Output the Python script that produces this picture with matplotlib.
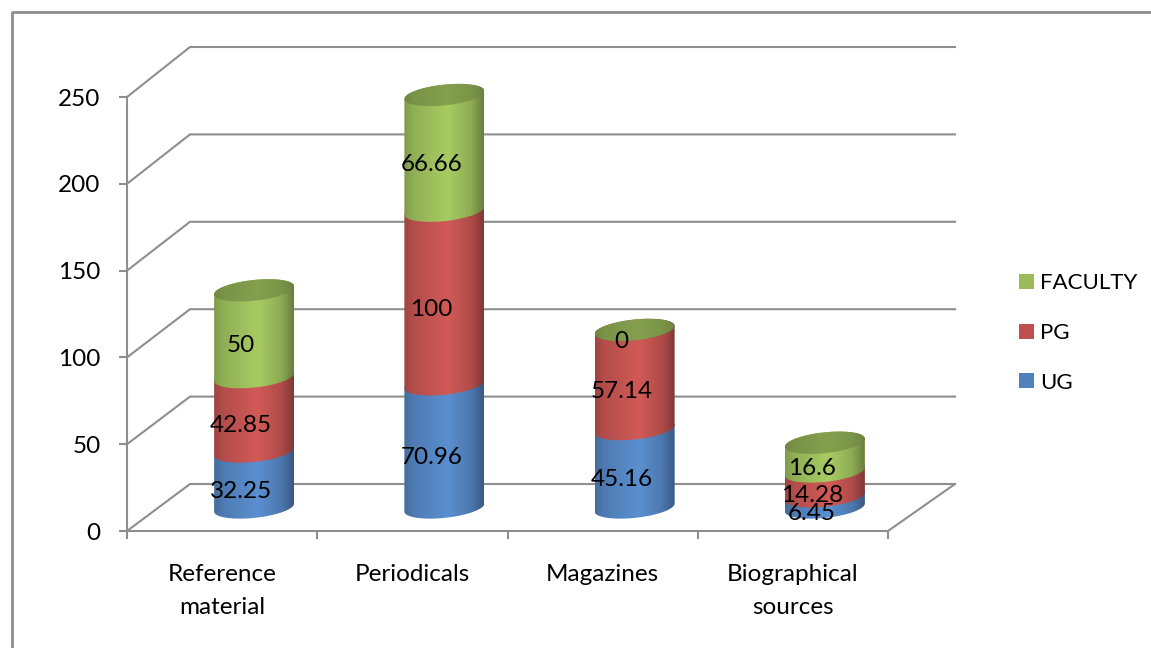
import numpy as np
import matplotlib
matplotlib.use("Agg")
import matplotlib.pyplot as plt
from matplotlib.lines import Line2D
from matplotlib.patches import PathPatch, Patch
from matplotlib.path import Path

plt.rcParams["font.family"] = ["Lato", "DejaVu Sans"]

categories = ["Reference\nmaterial", "Periodicals", "Magazines", "Biographical\nsources"]
ug = [32.25, 70.96, 45.16, 6.45]
pg = [42.85, 100, 57.14, 14.28]
faculty = [50, 66.66, 0, 16.6]
y_ticks = [0, 50, 100, 150, 200, 250]

W, H = 1151, 648
AX_L, AX_R, AX_T, AX_B = 127, 888, 97, 531
PX_X = 4 / (AX_R - AX_L)       # data units per pixel, horizontally
PX_Y = 250 / (AX_B - AX_T)     # data units per pixel, vertically

GREY = "#8e8e8e"
LW = 1.5
FS = 17.5

fig = plt.figure(figsize=(W / 100, H / 100), dpi=100, facecolor="white")
ax = fig.add_axes([AX_L / W, 1 - AX_B / H, (AX_R - AX_L) / W, (AX_B - AX_T) / H])
ax.set_facecolor("none")

# outer chart frame, running off the right and bottom edges
fig.add_artist(Line2D([11.5 / W, 11.5 / W, 1], [0, 1 - 11.5 / H, 1 - 11.5 / H],
                      color=GREY, lw=2.0, transform=fig.transFigure))

# walls and floor of the 3D box
depth_x_left = 63 * PX_X
depth_x_right = 67 * PX_X
depth_y = 47 * PX_Y
back_scale = 437 / 434
back_left = -0.5 + depth_x_left
back_right = 3.5 + depth_x_right
for v in y_ticks:
    yb = depth_y + v * back_scale
    ax.plot([-0.5, back_left, back_right], [v, yb, yb], color=GREY, lw=LW,
            clip_on=False, zorder=1, solid_joinstyle="miter")
ax.plot([3.5, back_right], [0, depth_y], color=GREY, lw=LW, clip_on=False, zorder=1)

# stacked cylinders
CYL_DX = 32 * PX_X
CYL_BASE = 23.5 * PX_Y
CYL_A = 40 * PX_X
CYL_B = 10.4 * PX_Y
CYL_K = 4.0 * PX_Y
LABEL_DX = 19 * PX_X
LABEL_DY = 12 * PX_Y

SHADE_POS = [0, 0.12, 0.55, 0.84, 1]
SHADE_VAL = [0.76, 0.86, 1.0, 0.84, 0.62]
CAP_VAL = [0.84, 0.92, 1.0, 0.93, 0.82]


def shaded_image(cx, y0, y1, colour, shade, clip):
    rgb = np.array(matplotlib.colors.to_rgb(colour))
    s = np.interp(np.linspace(0, 1, 160), SHADE_POS, shade)
    img = (s[:, None] * rgb)[None, :, :]
    im = ax.imshow(img, extent=[cx - CYL_A, cx + CYL_A, y0, y1], aspect="auto",
                   interpolation="bilinear", zorder=3, origin="lower")
    patch = PathPatch(clip, transform=ax.transData, fc="none", ec="none")
    im.set_clip_path(patch)
    im.set_clip_box(fig.bbox)


def arc(cx, cy, t0, t1):
    t = np.linspace(t0, t1, 80)
    return np.c_[cx + CYL_A * np.cos(t), cy + CYL_B * np.sin(t) + CYL_K * np.cos(t)]


series = [("UG", ug, "#5b8fd0"), ("PG", pg, "#d15a57"), ("FACULTY", faculty, "#a8cc63")]
for i in range(len(categories)):
    cx = i + CYL_DX
    bottom = 0.0
    for name, vals, colour in series:
        v = vals[i]
        y0, y1 = CYL_BASE + bottom, CYL_BASE + bottom + v
        if v > 0:
            # front arc of the lower rim, then back arc of the upper rim
            pts = np.r_[arc(cx, y0, np.pi, 2 * np.pi), arc(cx, y1, 0, np.pi)]
            shaded_image(cx, y0 - 2 * CYL_B, y1 + 2 * CYL_B, colour, SHADE_VAL,
                         Path(np.r_[pts, pts[:1]], closed=True))
        ax.text(i + LABEL_DX, bottom + v / 2 + LABEL_DY, f"{v:g}", ha="center",
                va="center", fontsize=FS, color="black", zorder=6)
        bottom += v
    top = CYL_BASE + bottom
    cap = arc(cx, top, 0, 2 * np.pi)
    shaded_image(cx, top - 2 * CYL_B, top + 2 * CYL_B, "#84a04e", CAP_VAL,
                 Path(cap, closed=True))

# axes
ax.set_xlim(-0.5, 3.5)
ax.set_ylim(0, 250)
for side in ("top", "right"):
    ax.spines[side].set_visible(False)
for side in ("left", "bottom"):
    ax.spines[side].set_color(GREY)
    ax.spines[side].set_linewidth(LW)
    ax.spines[side].set_zorder(2)
ax.set_yticks(y_ticks)
ax.tick_params(axis="y", length=6, width=LW, color=GREY, labelsize=FS, pad=13)
plt.setp(ax.get_yticklabels(), va="center_baseline")
ax.set_xticks(np.arange(-0.5, 4))
ax.set_xticklabels([])
ax.tick_params(axis="x", which="major", length=6, width=LW, color=GREY)
ax.set_xticks(np.arange(4), minor=True)
ax.set_xticklabels(categories, minor=True, fontsize=FS, linespacing=1.66)
ax.tick_params(axis="x", which="minor", length=0, pad=24)

# legend, with the flat series colours
legend_colours = {"FACULTY": "#9bbb59", "PG": "#c0504d", "UG": "#4f81bd"}
handles = [Patch(fc=legend_colours[n], ec="none", label=n) for n, _, _ in reversed(series)]
ax.legend(handles=handles, loc="center left", bbox_to_anchor=(1019 / W, 1 - 333 / H),
          bbox_transform=fig.transFigure, frameon=False, fontsize=16,
          handlelength=0.68, handleheight=0.68, handletextpad=0.28,
          labelspacing=1.33, borderpad=0, borderaxespad=0)

fig.savefig("out.png", dpi=100)
